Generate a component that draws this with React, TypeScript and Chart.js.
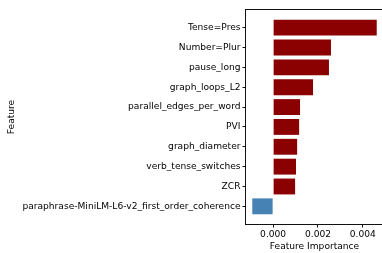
import React, { useEffect, useRef } from "react";
import { Chart, registerables } from "chart.js";

Chart.register(...registerables);

const features = [
  "Tense=Pres",
  "Number=Plur",
  "pause_long",
  "graph_loops_L2",
  "parallel_edges_per_word",
  "PVI",
  "graph_diameter",
  "verb_tense_switches",
  "ZCR",
  "paraphrase-MiniLM-L6-v2_first_order_coherence",
];
const importances = [0.00462, 0.00258, 0.00249, 0.00178, 0.0012, 0.00116, 0.00107, 0.00102, 0.00098, -0.00093];
const xTicks = [0, 0.002, 0.004];

const POS = "#8B0000";
const NEG = "#4682B4";
const FONT = "'DejaVu Sans', sans-serif";
const FS = 9.1;
const TXT = "#000";

const CW = 400;
const CH = 253;

export default function App() {
  const ref = useRef<HTMLCanvasElement | null>(null);
  useEffect(() => {
    if (!ref.current) return;
    const frame = {
      id: "frame",
      afterDatasetsDraw(chart: any) {
        const { ctx, chartArea } = chart;
        ctx.save();
        ctx.strokeStyle = "#111";
        ctx.lineWidth = 1;
        ctx.strokeRect(chartArea.left - 0.5, chartArea.top - 0.5, chartArea.right - chartArea.left + 1, chartArea.bottom - chartArea.top + 1);
        ctx.restore();
      },
    };
    const chart = new Chart(ref.current, {
      type: "bar",
      data: {
        datasets: [
          {
            data: importances.map((v, i) => ({ x: v, y: i })) as any,
            backgroundColor: importances.map((v) => (v >= 0 ? POS : NEG)),
            barPercentage: 0.8,
            categoryPercentage: 1,
          },
        ],
      },
      options: {
        indexAxis: "y",
        animation: false,
        responsive: false,
        devicePixelRatio: 1,
        layout: { padding: { left: 0, top: 10, right: CW - 383, bottom: 0 } },
        plugins: { legend: { display: false }, tooltip: { enabled: false } },
        scales: {
          x: {
            type: "linear",
            min: -0.00121,
            max: 0.0049,
            afterBuildTicks: (s: any) => {
              s.ticks = xTicks.map((v) => ({ value: v }));
            },
            afterFit: (s: any) => {
              s.height = CH - 224;
            },
            grid: { drawOnChartArea: false, drawTicks: true, tickLength: 3.5, tickColor: "#111", tickWidth: 1 },
            border: { display: false },
            ticks: {
              padding: 1.5,
              color: TXT,
              font: { family: FONT, size: FS },
              maxRotation: 0,
              callback: (v: any) => Number(v).toFixed(3),
            },
            title: {
              display: true,
              text: "Feature Importance",
              color: TXT,
              font: { family: FONT, size: FS },
              padding: { top: 0, bottom: 1 },
            },
          },
          y: {
            type: "linear",
            reverse: true,
            offset: false,
            min: -0.89,
            max: 9.89,
            afterBuildTicks: (s: any) => {
              s.ticks = features.map((_, i) => ({ value: i }));
            },
            afterFit: (s: any) => {
              s.width = 246;
            },
            grid: { offset: false, drawOnChartArea: false, drawTicks: true, tickLength: 3.5, tickColor: "#111", tickWidth: 1 },
            border: { display: false },
            ticks: {
              padding: 2,
              color: TXT,
              autoSkip: false,
              font: { family: FONT, size: FS },
              callback: (v: any) => features[Math.round(Number(v))] ?? "",
            },
            title: {
              display: true,
              text: "Feature",
              color: TXT,
              font: { family: FONT, size: FS },
              padding: { top: 6, bottom: 0 },
            },
          },
        },
      } as any,
      plugins: [frame],
    });
    return () => chart.destroy();
  }, []);
  return (
    <div style={{ position: "absolute", left: 0, top: 0, width: 382, height: 253, overflow: "hidden", background: "#fff" }}>
      <canvas ref={ref} width={CW} height={CH} style={{ width: CW, height: CH, display: "block" }} />
    </div>
  );
}
